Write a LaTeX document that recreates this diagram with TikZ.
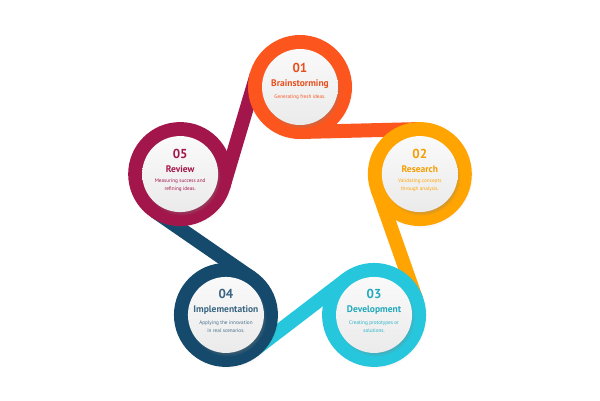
\documentclass[tikz,border=0pt]{standalone}
\usepackage{fontspec}
\setmainfont{PT Sans}
\usetikzlibrary{calc,positioning,shadows,backgrounds}
\definecolor{c1}{RGB}{252,86,30}
\definecolor{c2}{RGB}{255,164,0}
\definecolor{c3}{RGB}{38,198,220}
\definecolor{c4}{RGB}{22,74,108}
\definecolor{c5}{RGB}{163,22,75}

\begin{document}
\begin{tikzpicture}[x=1pt, y=1pt,
  ring/.style = {circle, fill=#1, minimum size=104pt, inner sep=0pt, outer sep=0pt,
    circular drop shadow={shadow xshift=1pt, shadow yshift=-1.5pt, shadow scale=1.01, opacity=.2}},
  disc/.style = {circle, top color=black!2, bottom color=black!8, minimum size=76pt, inner sep=0pt,
    circular drop shadow={shadow xshift=1.5pt, shadow yshift=-2.5pt, shadow scale=1.03, opacity=.45}},
  band/.style = {line width=14pt, draw=#1},
  num/.style = {font=\bfseries\fontsize{13}{13}\selectfont, inner sep=0pt},
  title/.style = {font=\bfseries\fontsize{9.5}{10}\selectfont, inner sep=0pt},
  desc/.style = {font=\fontsize{5.2}{8}\selectfont, align=center, inner sep=0pt}]
\useasboundingbox (-300,-187) rectangle (300,213);

\node[ring=c1] (r1) at (90:126) {};
\node[ring=c2] (r2) at (18:126) {};
\node[ring=c3] (r3) at (-54:126) {};
\node[ring=c4] (r4) at (-126:126) {};
\node[ring=c5] (r5) at (162:126) {};

\coordinate (o1) at ($(r1)+(-88.6:45)$);
\coordinate (i2) at ($(r2)+(91.4:45)$);
\coordinate (o2) at ($(r2)+(-160.6:45)$);
\coordinate (i3) at ($(r3)+(19.4:45)$);
\coordinate (o3) at ($(r3)+(127.4:45)$);
\coordinate (i4) at ($(r4)+(-52.6:45)$);
\coordinate (o4) at ($(r4)+(55.4:45)$);
\coordinate (i5) at ($(r5)+(-124.6:45)$);
\coordinate (o5) at ($(r5)+(-16.6:45)$);
\coordinate (i1) at ($(r1)+(163.4:45)$);

\begin{scope}[on background layer]
\draw[band=c1] (o1) -- (i2);
\draw[band=c2] (o2) -- (i3);
\draw[band=c3] (o3) -- (i4);
\draw[band=c4] (o4) -- (i5);
\draw[band=c5] (o5) -- (i1);
\end{scope}

\node[disc] (w1) at (r1) {};
\node[disc] (w2) at (r2) {};
\node[disc] (w3) at (r3) {};
\node[disc] (w4) at (r4) {};
\node[disc] (w5) at (r5) {};

\node[title, text=c1!92!black] (t1) at ([yshift=3pt]w1.center) {Brainstorming};
\node[num, text=c1!92!black, above=6.5pt of t1] (n1) {01};
\node[desc, text=c1, below=6pt of t1] (d1) {Generating fresh ideas.};

\node[title, text=c2!96!black] (t2) at ([yshift=5pt]w2.center) {Research};
\node[num, text=c2!96!black, above=6.5pt of t2] (n2) {02};
\node[desc, text=c2, below=6pt of t2] (d2) {Validating concepts\\through analysis.};

\node[title, text=c3!85!black] (t3) at ([yshift=5pt]w3.center) {Development};
\node[num, text=c3!85!black, above=6.5pt of t3] (n3) {03};
\node[desc, text=c3!90!black, below=6pt of t3] (d3) {Creating prototypes or\\solutions.};

\node[title, text=c4!85!white] (t4) at ([yshift=5pt]w4.center) {Implementation};
\node[num, text=c4!85!white, above=6.5pt of t4] (n4) {04};
\node[desc, text=c4!80!white, below=6pt of t4] (d4) {Applying the innovation\\in real scenarios.};

\node[title, text=c5] (t5) at ([yshift=5pt]w5.center) {Review};
\node[num, text=c5, above=6.5pt of t5] (n5) {05};
\node[desc, text=c5, below=6pt of t5] (d5) {Measuring success and\\refining ideas.};
\end{tikzpicture}
\end{document}
